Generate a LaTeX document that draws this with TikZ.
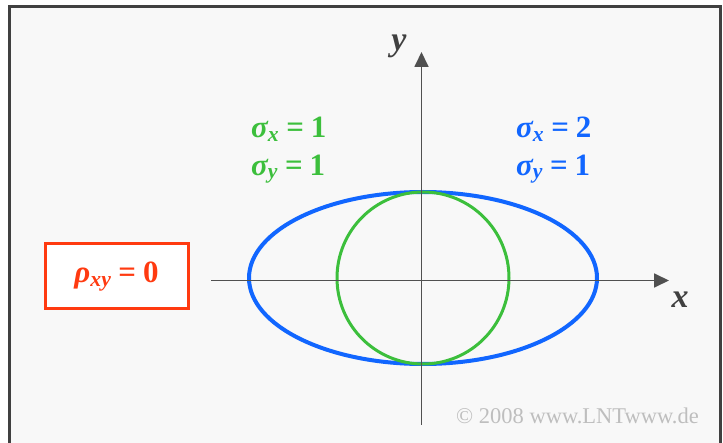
\documentclass[tikz,border=0pt]{standalone}
\usepackage{fontspec}
\setmainfont{Liberation Serif}[BoldFont={Liberation Serif Bold},ItalicFont={Liberation Serif Italic},BoldItalicFont={Liberation Serif Bold Italic}]
\usetikzlibrary{arrows.meta}
\definecolor{bggray}{HTML}{F8F8F8}
\definecolor{framegray}{HTML}{404040}
\definecolor{axisgray}{HTML}{505050}
\definecolor{myblue}{HTML}{1166FF}
\definecolor{mygreen}{HTML}{3CBF3C}
\definecolor{myred}{HTML}{FF3A10}
\definecolor{copygray}{HTML}{BEBEBE}
\newcommand{\lbl}[3]{{\itshape #1}\textsubscript{\itshape #2}\hspace{7pt}=\hspace{7pt}#3}
\tikzset{
  axisline/.style={line width=1.8pt, draw=axisgray, -{Triangle[length=15pt,width=14pt]}},
  sigmatxt/.style={font=\fontsize{31}{36}\selectfont\bfseries, inner sep=0pt, align=left},
  axislbl/.style={font=\fontsize{34}{38}\selectfont\bfseries\itshape, text=framegray, inner sep=0pt},
  rhobox/.style={draw=myred, line width=3pt, fill=white, minimum width=143pt, minimum height=65pt, inner sep=0pt, text=myred, font=\fontsize{31}{34}\selectfont\bfseries},
  copytxt/.style={font=\fontsize{22.5}{24}\selectfont, text=copygray, inner sep=0pt}
}
\begin{document}
\begin{tikzpicture}[x=1pt,y=-1pt]
\useasboundingbox (0,0) rectangle (723,443);
\fill[white] (0,0) rectangle (723,443);
\draw[draw=framegray, line width=3pt, fill=bggray] (9.5,6.5) rectangle (720,460);
% axes
\coordinate (xs) at (211,280.5);
\coordinate (xe) at (669,280.5);
\coordinate (ys) at (421.5,425);
\coordinate (ye) at (421.5,52);
\coordinate (O) at (423,278);
% curves
\draw[myblue, line width=4pt] (O) ellipse [x radius=174pt, y radius=86pt];
\draw[mygreen, line width=3pt] (O) circle [radius=86pt];
\draw[axisline] (xs) -- (xe);
\draw[axisline] (ys) -- (ye);
\node[axislbl] (ylab) at (399,46) {y};
\node[axislbl] (xlab) at (680,300) {x};
% labels
\node[sigmatxt, text=mygreen, anchor=west] (g1) at (251,129) {\lbl{σ}{x}{1}};
\node[sigmatxt, text=mygreen, anchor=west] (g2) at (251,169) {\lbl{σ}{y}{1}};
\node[sigmatxt, text=myblue, anchor=west] (b1) at (516,129) {\lbl{σ}{x}{2}};
\node[sigmatxt, text=myblue, anchor=west] (b2) at (516,169) {\lbl{σ}{y}{1}};
\node[rhobox] (rho) at (116.5,276.5) {\lbl{ρ}{xy}{0}\hspace{8pt}};
\node[copytxt, anchor=west] (copy) at (456,416) {© 2008 www.LNTwww.de};
\end{tikzpicture}
\end{document}
